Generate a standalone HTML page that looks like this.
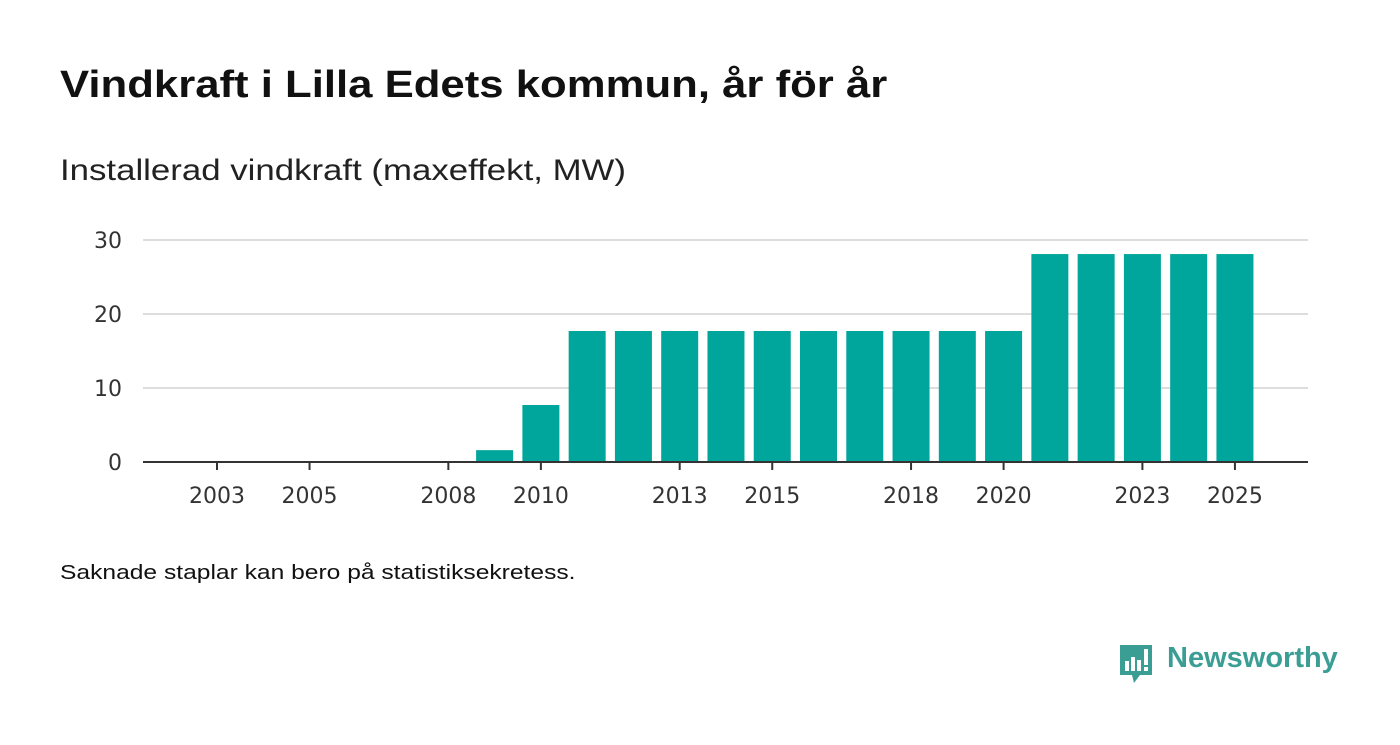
<!DOCTYPE html>
<html><head><meta charset="utf-8"><style>
body{margin:0;width:1400px;height:745px;background:#fff;font-family:"Liberation Sans",sans-serif;overflow:hidden;position:relative}
.t{position:absolute;white-space:nowrap;transform-origin:left top}
</style></head><body>
<div class="t" style="left:60px;top:64px;font-size:38px;font-weight:bold;color:#111;transform:scaleX(1.15)">Vindkraft i Lilla Edets kommun, år för år</div>
<div class="t" style="left:60px;top:154px;font-size:30px;color:#222;transform:scaleX(1.16)">Installerad vindkraft (maxeffekt, MW)</div>
<svg id="chart" style="position:absolute;left:0;top:0" width="1400" height="560"></svg>
<div class="t" style="left:60px;top:562px;font-size:20px;color:#111;transform:scaleX(1.23)">Saknade staplar kan bero på statistiksekretess.</div>
<div style="position:absolute;left:1118px;top:643px">
<svg width="38" height="42" viewBox="0 0 38 42"><path d="M2 2h32v30H22l-6 8-2-8H2z" fill="#3b9e95"/><rect x="7" y="18" width="4" height="10" fill="#fff"/><rect x="13" y="14" width="4" height="14" fill="#fff"/><rect x="19" y="17" width="4" height="11" fill="#fff"/><rect x="26" y="6" width="4" height="16" fill="#fff"/><rect x="26" y="24" width="4" height="4" fill="#fff"/></svg>
<span class="t" style="left:49px;top:-1px;font-size:29px;font-weight:bold;color:#3b9e95">Newsworthy</span>
</div>
<script>
const years=[2002,2003,2004,2005,2006,2007,2008,2009,2010,2011,2012,2013,2014,2015,2016,2017,2018,2019,2020,2021,2022,2023,2024,2025];
const values=[0,0,0,0,0,0,0,1.6,7.7,17.7,17.7,17.7,17.7,17.7,17.7,17.7,17.7,17.7,17.7,28.1,28.1,28.1,28.1,28.1];
const yTicks=[0,10,20,30];
const xTickLabels=[2003,2005,2008,2010,2013,2015,2018,2020,2023,2025];
const svg=document.getElementById('chart');const NS='http://www.w3.org/2000/svg';
const x=y=>217+(y-2003)*46.27, yS=v=>462-v*7.4;
function mk(t,a,txt){const e=document.createElementNS(NS,t);for(const k in a)e.setAttribute(k,a[k]);if(txt!=null)e.textContent=txt;svg.appendChild(e);return e;}
yTicks.forEach(v=>{
 if(v>0){const g=mk('line',{x1:143,x2:1308,y1:yS(v),y2:yS(v),stroke:'#ddd','stroke-width':2});
 
 }
 const t=mk('text',{x:122,y:yS(v)+8,'text-anchor':'end','font-size':22,fill:'#333','font-family':'DejaVu Sans'},v);
 
 
});
years.forEach((yr,i)=>{if(values[i]<=0)return;
 const r=mk('rect',{x:x(yr)-18.5,y:yS(values[i]),width:37,height:values[i]*7.4,fill:'#00a59b'});
 
 
});
const ax=mk('line',{x1:143,x2:1308,y1:462,y2:462,stroke:'#333','stroke-width':2});


xTickLabels.forEach(yr=>{
 const tk=mk('line',{x1:x(yr),x2:x(yr),y1:462,y2:470,stroke:'#333','stroke-width':2});
 
 
 const t=mk('text',{x:x(yr),y:503,'text-anchor':'middle','font-size':22,fill:'#333','font-family':'DejaVu Sans'},yr);
 
 
});
</script>
</body></html>
